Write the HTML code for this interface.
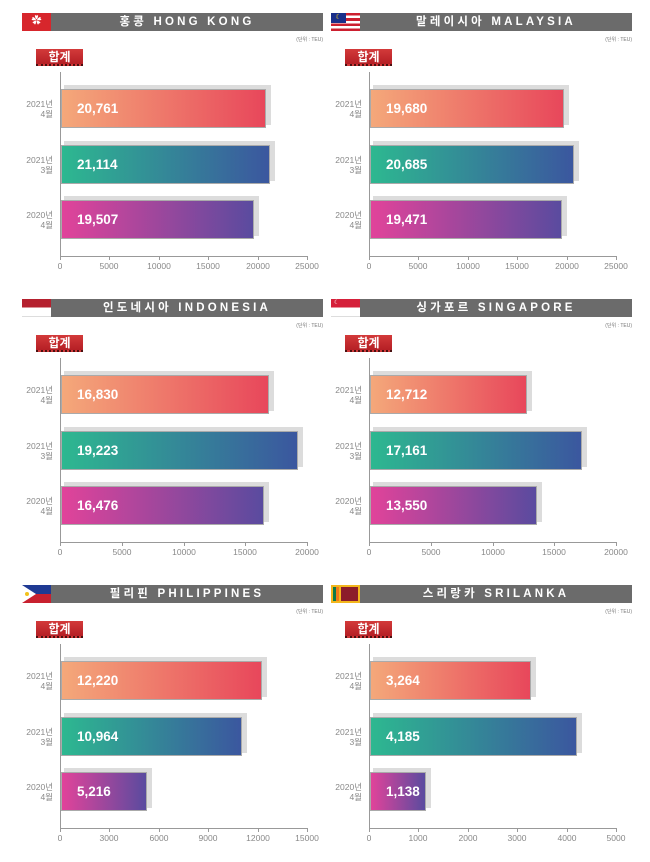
<!DOCTYPE html>
<html><head><meta charset="utf-8"><style>
*{margin:0;padding:0;box-sizing:border-box}
body{width:650px;height:862px;background:#fff;position:relative;overflow:hidden;font-family:"Liberation Sans","Noto Sans CJK KR",sans-serif}
.p{position:absolute;width:325px;height:286px}
.flag{position:absolute;left:22px;top:13px;width:29px;height:18px;overflow:hidden}
.hd{position:absolute;left:51px;top:13px;width:272px;height:18px;background:#6b6b6b;color:#fff;font-weight:bold;font-size:11.5px;letter-spacing:3.2px;text-align:center;line-height:18px}
.un{position:absolute;right:2px;top:36px;font-size:5px;color:#777}
.bd{position:absolute;left:36px;top:49px;width:47px;height:17px;background:linear-gradient(#d33a3a,#b51f25);color:#fff;font-weight:bold;font-size:12px;text-align:center;line-height:17px;border-bottom:2px dotted #4a1010}
.ay{position:absolute;left:60px;top:72px;width:1px;height:184px;background:#999}
.ax{position:absolute;left:60px;top:256px;width:248px;height:1px;background:#999}
.tk{position:absolute;top:256px;width:1px;height:4px;background:#999}
.tl{position:absolute;top:261px;width:40px;margin-left:-20px;text-align:center;font-size:8.5px;color:#888}
.sh{position:absolute;left:64px;height:40px;background:#dcdcdc}
.b{position:absolute;left:61px;height:39px;border:1px solid #aaa;color:#fff;font-weight:bold;font-size:13.5px;line-height:37px;padding-left:15px;white-space:nowrap}
.o{background:linear-gradient(90deg,#f4a87a,#e8475b)}
.g{background:linear-gradient(90deg,#2db890,#3b579f)}
.m{background:linear-gradient(90deg,#e1439a,#5a4b9f)}
.lb{position:absolute;left:0;width:53px;text-align:right;font-size:8.5px;color:#888;line-height:10px}
</style></head><body>

<!-- HONG KONG -->
<div class="p" style="left:0;top:0">
<div class="flag" style="background:#d7262c;color:#fff;font-size:10px;text-align:center;line-height:18px">✿</div>
<div class="hd">홍콩 HONG KONG</div><div class="un">(단위 : TEU)</div><div class="bd">합계</div>
<div class="ay"></div><div class="ax"></div>
<div class="sh" style="top:85px;width:207px"></div><div class="b o" style="top:89px;width:205px">20,761</div>
<div class="sh" style="top:141px;width:211px"></div><div class="b g" style="top:145px;width:209px">21,114</div>
<div class="sh" style="top:196px;width:195px"></div><div class="b m" style="top:200px;width:193px">19,507</div>
<div class="lb" style="top:99px">2021년<br>4월</div><div class="lb" style="top:155px">2021년<br>3월</div><div class="lb" style="top:210px">2020년<br>4월</div>
<div class="tk" style="left:60px"></div><div class="tk" style="left:109px"></div><div class="tk" style="left:159px"></div><div class="tk" style="left:208px"></div><div class="tk" style="left:258px"></div><div class="tk" style="left:307px"></div>
<div class="tl" style="left:60px">0</div><div class="tl" style="left:109px">5000</div><div class="tl" style="left:159px">10000</div><div class="tl" style="left:208px">15000</div><div class="tl" style="left:258px">20000</div><div class="tl" style="left:307px">25000</div>
</div>

<!-- MALAYSIA -->
<div class="p" style="left:309px;top:0">
<div class="flag" style="background:repeating-linear-gradient(#cc1f2f 0 2.6px,#fff 2.6px 5.2px)"><div style="width:15px;height:10px;background:#1a2f8a;color:#f8d21c;font-size:7px;line-height:10px;text-align:center">☾</div></div>
<div class="hd">말레이시아 MALAYSIA</div><div class="un">(단위 : TEU)</div><div class="bd">합계</div>
<div class="ay"></div><div class="ax"></div>
<div class="sh" style="top:85px;width:196px"></div><div class="b o" style="top:89px;width:194px">19,680</div>
<div class="sh" style="top:141px;width:206px"></div><div class="b g" style="top:145px;width:204px">20,685</div>
<div class="sh" style="top:196px;width:194px"></div><div class="b m" style="top:200px;width:192px">19,471</div>
<div class="lb" style="top:99px">2021년<br>4월</div><div class="lb" style="top:155px">2021년<br>3월</div><div class="lb" style="top:210px">2020년<br>4월</div>
<div class="tk" style="left:60px"></div><div class="tk" style="left:109px"></div><div class="tk" style="left:159px"></div><div class="tk" style="left:208px"></div><div class="tk" style="left:258px"></div><div class="tk" style="left:307px"></div>
<div class="tl" style="left:60px">0</div><div class="tl" style="left:109px">5000</div><div class="tl" style="left:159px">10000</div><div class="tl" style="left:208px">15000</div><div class="tl" style="left:258px">20000</div><div class="tl" style="left:307px">25000</div>
</div>

<!-- INDONESIA -->
<div class="p" style="left:0;top:286px">
<div class="flag" style="background:linear-gradient(#b5202e 50%,#fff 50%);border-bottom:1px solid #ddd"></div>
<div class="hd">인도네시아 INDONESIA</div><div class="un">(단위 : TEU)</div><div class="bd">합계</div>
<div class="ay"></div><div class="ax"></div>
<div class="sh" style="top:85px;width:210px"></div><div class="b o" style="top:89px;width:208px">16,830</div>
<div class="sh" style="top:141px;width:239px"></div><div class="b g" style="top:145px;width:237px">19,223</div>
<div class="sh" style="top:196px;width:205px"></div><div class="b m" style="top:200px;width:203px">16,476</div>
<div class="lb" style="top:99px">2021년<br>4월</div><div class="lb" style="top:155px">2021년<br>3월</div><div class="lb" style="top:210px">2020년<br>4월</div>
<div class="tk" style="left:60px"></div><div class="tk" style="left:122px"></div><div class="tk" style="left:184px"></div><div class="tk" style="left:245px"></div><div class="tk" style="left:307px"></div>
<div class="tl" style="left:60px">0</div><div class="tl" style="left:122px">5000</div><div class="tl" style="left:184px">10000</div><div class="tl" style="left:245px">15000</div><div class="tl" style="left:307px">20000</div>
</div>

<!-- SINGAPORE -->
<div class="p" style="left:309px;top:286px">
<div class="flag" style="background:linear-gradient(#d5203a 50%,#fff 50%);border-bottom:1px solid #ddd;color:#fff;font-size:6px;line-height:9px;padding-left:3px">☾</div>
<div class="hd">싱가포르 SINGAPORE</div><div class="un">(단위 : TEU)</div><div class="bd">합계</div>
<div class="ay"></div><div class="ax"></div>
<div class="sh" style="top:85px;width:159px"></div><div class="b o" style="top:89px;width:157px">12,712</div>
<div class="sh" style="top:141px;width:214px"></div><div class="b g" style="top:145px;width:212px">17,161</div>
<div class="sh" style="top:196px;width:169px"></div><div class="b m" style="top:200px;width:167px">13,550</div>
<div class="lb" style="top:99px">2021년<br>4월</div><div class="lb" style="top:155px">2021년<br>3월</div><div class="lb" style="top:210px">2020년<br>4월</div>
<div class="tk" style="left:60px"></div><div class="tk" style="left:122px"></div><div class="tk" style="left:184px"></div><div class="tk" style="left:245px"></div><div class="tk" style="left:307px"></div>
<div class="tl" style="left:60px">0</div><div class="tl" style="left:122px">5000</div><div class="tl" style="left:184px">10000</div><div class="tl" style="left:245px">15000</div><div class="tl" style="left:307px">20000</div>
</div>

<!-- PHILIPPINES -->
<div class="p" style="left:0;top:572px">
<div class="flag" style="background:linear-gradient(#1f3a93 50%,#c8202f 50%)"><svg width="29" height="18" style="position:absolute;left:0;top:0"><polygon points="0,0 14,9 0,18" fill="#fff"/><circle cx="5" cy="9" r="2" fill="#f2c21b"/></svg></div>
<div class="hd">필리핀 PHILIPPINES</div><div class="un">(단위 : TEU)</div><div class="bd">합계</div>
<div class="ay"></div><div class="ax"></div>
<div class="sh" style="top:85px;width:203px"></div><div class="b o" style="top:89px;width:201px">12,220</div>
<div class="sh" style="top:141px;width:183px"></div><div class="b g" style="top:145px;width:181px">10,964</div>
<div class="sh" style="top:196px;width:88px"></div><div class="b m" style="top:200px;width:86px">5,216</div>
<div class="lb" style="top:99px">2021년<br>4월</div><div class="lb" style="top:155px">2021년<br>3월</div><div class="lb" style="top:210px">2020년<br>4월</div>
<div class="tk" style="left:60px"></div><div class="tk" style="left:109px"></div><div class="tk" style="left:159px"></div><div class="tk" style="left:208px"></div><div class="tk" style="left:258px"></div><div class="tk" style="left:307px"></div>
<div class="tl" style="left:60px">0</div><div class="tl" style="left:109px">3000</div><div class="tl" style="left:159px">6000</div><div class="tl" style="left:208px">9000</div><div class="tl" style="left:258px">12000</div><div class="tl" style="left:307px">15000</div>
</div>

<!-- SRILANKA -->
<div class="p" style="left:309px;top:572px">
<div class="flag" style="background:#f2b61d;padding:2px"><div style="display:flex;height:14px"><div style="width:3px;background:#0a7a4a"></div><div style="width:3px;background:#f07a1a"></div><div style="width:2px"></div><div style="flex:1;background:#8c1c2a"></div></div></div>
<div class="hd">스리랑카 SRILANKA</div><div class="un">(단위 : TEU)</div><div class="bd">합계</div>
<div class="ay"></div><div class="ax"></div>
<div class="sh" style="top:85px;width:163px"></div><div class="b o" style="top:89px;width:161px">3,264</div>
<div class="sh" style="top:141px;width:209px"></div><div class="b g" style="top:145px;width:207px">4,185</div>
<div class="sh" style="top:196px;width:58px"></div><div class="b m" style="top:200px;width:56px">1,138</div>
<div class="lb" style="top:99px">2021년<br>4월</div><div class="lb" style="top:155px">2021년<br>3월</div><div class="lb" style="top:210px">2020년<br>4월</div>
<div class="tk" style="left:60px"></div><div class="tk" style="left:109px"></div><div class="tk" style="left:159px"></div><div class="tk" style="left:208px"></div><div class="tk" style="left:258px"></div><div class="tk" style="left:307px"></div>
<div class="tl" style="left:60px">0</div><div class="tl" style="left:109px">1000</div><div class="tl" style="left:159px">2000</div><div class="tl" style="left:208px">3000</div><div class="tl" style="left:258px">4000</div><div class="tl" style="left:307px">5000</div>
</div>

</body></html>
